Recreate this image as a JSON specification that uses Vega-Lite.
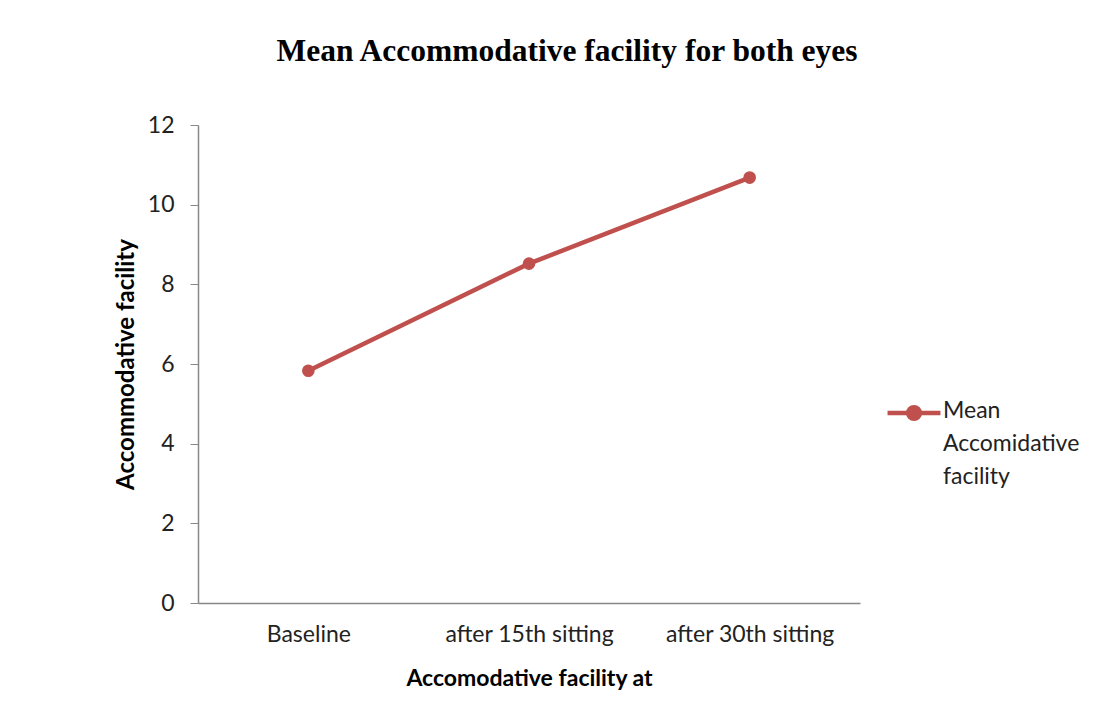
{
  "$schema": "https://vega.github.io/schema/vega-lite/v6.json",
  "width": 662,
  "height": 478,
  "autosize": {"type": "none"},
  "padding": {"left": 198, "top": 125, "right": 248, "bottom": 122},
  "background": "white",
  "title": {
    "text": "Mean Accommodative facility for both eyes",
    "font": "Liberation Serif",
    "fontSize": 31.5,
    "fontWeight": "bold",
    "color": "#000000",
    "anchor": "middle",
    "dx": 38,
    "offset": 47
  },
  "data": {
    "values": [
      {"stage": "Baseline", "value": 5.83, "series": "Mean Accomidative facility"},
      {"stage": "after 15th sitting", "value": 8.52, "series": "Mean Accomidative facility"},
      {"stage": "after 30th sitting", "value": 10.68, "series": "Mean Accomidative facility"}
    ]
  },
  "mark": {
    "type": "line",
    "strokeWidth": 4.5,
    "point": {"filled": true, "size": 160, "opacity": 1}
  },
  "encoding": {
    "x": {
      "field": "stage",
      "type": "nominal",
      "sort": null,
      "scale": {"paddingInner": 0, "paddingOuter": 0},
      "axis": {
        "title": "Accomodative facility at",
        "titleFont": "Lato",
        "titleFontSize": 23,
        "titleFontWeight": "bold",
        "titleColor": "#000000",
        "titlePadding": 21,
        "labelAngle": 0,
        "labelFont": "Lato",
        "labelFontSize": 23,
        "labelColor": "#222222",
        "labelPadding": 20,
        "ticks": false,
        "domainColor": "#888888",
        "domainWidth": 1.5,
        "grid": false
      }
    },
    "y": {
      "field": "value",
      "type": "quantitative",
      "scale": {"domain": [0, 12], "nice": false},
      "axis": {
        "title": "Accommodative facility",
        "titleFont": "Lato",
        "titleFontSize": 24,
        "titleFontWeight": "bold",
        "titleColor": "#000000",
        "titlePadding": 9,
        "values": [0, 2, 4, 6, 8, 10, 12],
        "labelFont": "Lato",
        "labelFontSize": 23,
        "labelColor": "#222222",
        "labelPadding": 16,
        "tickSize": 8,
        "tickColor": "#888888",
        "domainColor": "#888888",
        "domainWidth": 1.5,
        "grid": false
      }
    },
    "color": {
      "field": "series",
      "type": "nominal",
      "scale": {"range": ["#C0504D"]},
      "legend": {
        "title": null,
        "orient": "none",
        "legendX": 687,
        "legendY": 259,
        "symbolType": "M-1,0H1M-0.22,0A0.22,0.22 0 1,0 0.22,0A0.22,0.22 0 1,0 -0.22,0",
        "symbolSize": 2800,
        "symbolStrokeWidth": 4.5,
        "labelFont": "Lato",
        "labelFontSize": 23,
        "labelColor": "#222222",
        "labelOffset": 0,
        "labelLimit": 300,
        "labelBaseline": "top",
        "labelExpr": "['Mean', 'Accomidative', 'facility']",
        "encode": {
          "symbols": {"update": {"fill": {"value": "#C0504D"}, "stroke": {"value": "#C0504D"}}},
          "labels": {"update": {"dy": {"value": -13}, "lineHeight": {"value": 33}}}
        }
      }
    }
  },
  "config": {"view": {"stroke": null}}
}
